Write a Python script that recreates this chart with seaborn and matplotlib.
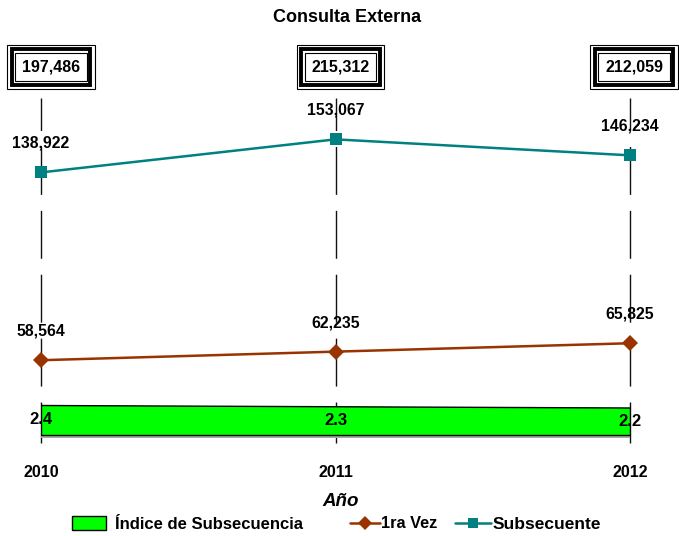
import matplotlib
matplotlib.use("Agg")
import matplotlib.pyplot as plt
import seaborn as sns
import pandas as pd
from matplotlib.patches import Patch
from matplotlib.lines import Line2D
import matplotlib.transforms as mtransforms

# Consulta externa por año
years = [2010, 2011, 2012]
year_labels = ["2010", "2011", "2012"]
primera_vez = [58564, 62235, 65825]
subsecuente = [138922, 153067, 146234]
totales = [197486, 215312, 212059]
indice = [2.4, 2.3, 2.2]

sns.set_theme(style="white")
plt.rcParams["font.family"] = ["Liberation Sans", "DejaVu Sans"]
plt.rcParams["font.weight"] = "bold"
plt.rcParams["text.color"] = "black"
plt.rcParams["axes.labelcolor"] = "black"
plt.rcParams["xtick.color"] = "black"

W, H = 679, 536
fig = plt.figure(figsize=(W / 100, H / 100), dpi=100)
fig.patch.set_facecolor("white")

ax = fig.add_axes([41 / W, (H - 443) / H, 589 / W, 345 / H])
ax.set_xlim(2010, 2012)
ax.set_ylim(23140, 170765)
ax2 = ax.twinx()
ax2.set_ylim(-0.64, 26.96)

for a in (ax, ax2):
    for s in a.spines.values():
        s.set_visible(False)
    a.set_yticks([])
    a.set_ylabel("")

# dashed vertical guides at each year
for x in years:
    ax.axvline(x, 0, 1, color="#111111", linewidth=1.0,
               linestyle=(5, (34.5, 11.5)), zorder=1, clip_on=False)

df = pd.DataFrame({"Año": years, "1ra Vez": primera_vez,
                   "Subsecuente": subsecuente})
c_primera = "#993300"
c_sub = "#008080"
sns.lineplot(data=df, x="Año", y="1ra Vez", ax=ax, color=c_primera,
             marker="D", markersize=8, markeredgewidth=0, linewidth=1.8,
             zorder=3, clip_on=False)
sns.lineplot(data=df, x="Año", y="Subsecuente", ax=ax, color=c_sub,
             marker="s", markersize=8.5, markeredgewidth=0, linewidth=1.8,
             zorder=3, clip_on=False)
ax.set_ylabel("")

for serie in (primera_vez, subsecuente):
    for x, v in zip(years, serie):
        ax.annotate(f"{v:,}", (x, v), xytext=(0, 29),
                    textcoords="offset pixels", ha="center", va="center",
                    fontsize=11.3, fontweight="bold", color="black",
                    annotation_clip=False, zorder=5)

# totals in framed boxes above each year
box_dx = [10, 5, 4]
trans = mtransforms.blended_transform_factory(ax.transData, ax.transAxes)
for x, t, dx in zip(years, totales, box_dx):
    txt = f"{t:,}"
    common = dict(xy=(x, 1), xycoords=trans, xytext=(dx, 31),
                  textcoords="offset pixels", ha="center", va="center",
                  fontsize=11.5, fontweight="bold", annotation_clip=False)
    ax.annotate(txt, color="none",
                bbox=dict(boxstyle="square,pad=0.92", fc="white",
                          ec="black", lw=0.8), **common)
    ax.annotate(txt, color="none",
                bbox=dict(boxstyle="square,pad=0.64", fc="none",
                          ec="black", lw=2.8), **common)
    ax.annotate(txt, color="black",
                bbox=dict(boxstyle="square,pad=0.42", fc="white",
                          ec="black", lw=0.8), **common)

# subsequence index band
ax2.fill_between(years, -0.2, 0, color="#a8a8a8", linewidth=0, zorder=1)
ax2.fill_between(years, 0, indice, facecolor="#00FF00", edgecolor="black",
                 linewidth=1.0, zorder=2)
for x, v in zip(years, indice):
    ax2.text(x, v / 2, f"{v}", ha="center", va="center", fontsize=12,
             fontweight="bold", color="black", zorder=4)

ax.set_xticks(years, year_labels)
ax.tick_params(axis="x", length=0, pad=15.5, labelsize=11.5,
               labelcolor="black")
for lbl in ax.get_xticklabels():
    lbl.set_fontweight("bold")
ax.set_xlabel("Año", fontsize=13.5, fontweight="bold", fontstyle="italic",
              labelpad=12, color="black")
ax.xaxis.set_label_coords((341 - 41) / 589, -(501 - 443) / 345)
ax.xaxis.label.set_va("center")

fig.text(347.5 / W, 1 - 17.5 / H, "Consulta Externa", ha="center",
         va="center", fontsize=13, fontweight="bold", color="black")

# legend entries
ly = 1 - 524 / H
fig.legend(handles=[Patch(facecolor="#00FF00", edgecolor="black", lw=1)],
           labels=["Índice de Subsecuencia"], loc="center left",
           bbox_to_anchor=(72 / W, ly), frameon=False, borderpad=0,
           borderaxespad=0, handlelength=2.04, handleheight=0.9,
           handletextpad=0.54, prop=dict(size=12, weight="bold"),
           labelcolor="black")
fig.legend(handles=[Line2D([], [], color=c_primera, marker="D", markersize=7,
                           markeredgewidth=0, lw=1.8)],
           labels=["1ra Vez"], loc="center left",
           bbox_to_anchor=(350 / W, ly), frameon=False, borderpad=0,
           borderaxespad=0, handlelength=1.85, handletextpad=0.06,
           prop=dict(size=11.8, weight="bold"), labelcolor="black")
fig.legend(handles=[Line2D([], [], color=c_sub, marker="s", markersize=7,
                           markeredgewidth=0, lw=1.8)],
           labels=["Subsecuente"], loc="center left",
           bbox_to_anchor=(455 / W, ly), frameon=False, borderpad=0,
           borderaxespad=0, handlelength=2.1, handletextpad=0.06,
           prop=dict(size=12.5, weight="bold"), labelcolor="black")

fig.savefig("out.png", dpi=100, facecolor="white")
